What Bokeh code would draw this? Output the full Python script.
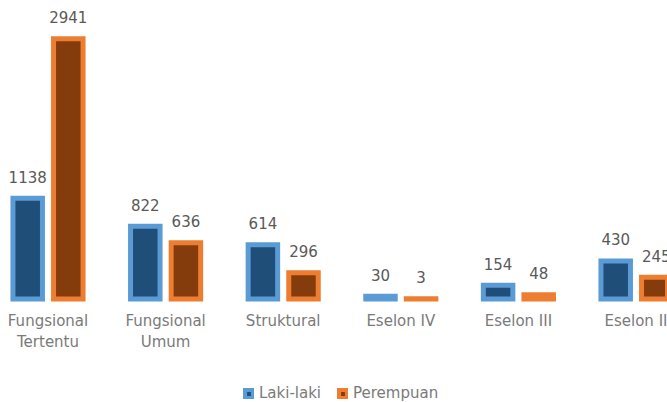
import numpy as np
from bokeh.plotting import figure
from bokeh.models import ColumnDataSource, Range1d, Legend, LegendItem
from bokeh.core.properties import value
from bokeh.embed import file_html
from bokeh.resources import INLINE

# ---- data ----
categories = ["Fungsional\nTertentu", "Fungsional\nUmum", "Struktural",
              "Eselon IV", "Eselon III", "Eselon II"]
laki = [1138, 822, 614, 30, 154, 430]
perempuan = [2941, 636, 296, 3, 48, 245]
series_names = ["Laki-laki", "Perempuan"]

# ---- layout constants ----
W, H = 667, 402
PX_PER_CAT = 117.6
PX_PER_UNIT = 0.0885
x0_px = 47.5       # first group centre, frame px
base_px = 298.5    # baseline, frame px from top

x_start = -x0_px / PX_PER_CAT
x_end = (W - x0_px) / PX_PER_CAT
y_end = base_px / PX_PER_UNIT
y_start = -(H - base_px) / PX_PER_UNIT

def py(page_y):
    return (base_px - page_y) / PX_PER_UNIT

FONT = "DejaVu Sans"
BLUE_LINE, BLUE_FILL = "#5B9BD5", "#1F4E79"
ORG_LINE, ORG_FILL = "#ED7D31", "#843C0C"

xi = np.arange(len(categories))
off = 20.3 / PX_PER_CAT
bw = 29.5 / PX_PER_CAT
lab_off = 21.5 / PX_PER_UNIT

src = ColumnDataSource(dict(
    x=xi, cat=categories, laki=laki, perempuan=perempuan,
    xl=xi - off, xp=xi + off,
    tl=[str(v) for v in laki], tp=[str(v) for v in perempuan],
    yl=[v + lab_off for v in laki], yp=[v + lab_off for v in perempuan],
    ycat=[py(311)] * len(categories),
))

p = figure(width=W, height=H, output_backend="svg", toolbar_location=None,
           x_range=Range1d(x_start, x_end), y_range=Range1d(y_start, y_end),
           min_border=0)
p.axis.visible = False
p.grid.visible = False
p.outline_line_color = None
p.background_fill_color = "white"

r1 = p.vbar(x="xl", top="laki", bottom=0, width=bw, source=src,
            fill_color=BLUE_FILL, line_color=BLUE_LINE, line_width=5,
            line_join="miter")
r2 = p.vbar(x="xp", top="perempuan", bottom=0, width=bw, source=src,
            fill_color=ORG_FILL, line_color=ORG_LINE, line_width=5,
            line_join="miter")

for xs, ys, ts in (("xl", "yl", "tl"), ("xp", "yp", "tp")):
    p.text(x=xs, y=ys, text=ts, source=src, text_align="center",
           text_baseline="alphabetic", text_font=value(FONT),
           text_font_size="15px", text_color="#595959")

p.text(x="x", y="ycat", text="cat", source=src, text_align="center",
       text_baseline="top", text_font=value(FONT), text_font_size="15px",
       text_color="#7a7a7a", text_line_height=1.2)

legend = Legend(items=[LegendItem(label=series_names[0], renderers=[r1]),
                       LegendItem(label=series_names[1], renderers=[r2])],
                orientation="horizontal", location=(243, 0),
                glyph_width=11, glyph_height=11, label_height=14,
                label_text_font=FONT, label_text_font_size="15px",
                label_text_color="#7a7a7a", label_standoff=5, spacing=16,
                padding=0, margin=0, border_line_color=None,
                background_fill_alpha=0)
p.add_layout(legend)

open("out.html", "w").write(file_html(p, INLINE))
